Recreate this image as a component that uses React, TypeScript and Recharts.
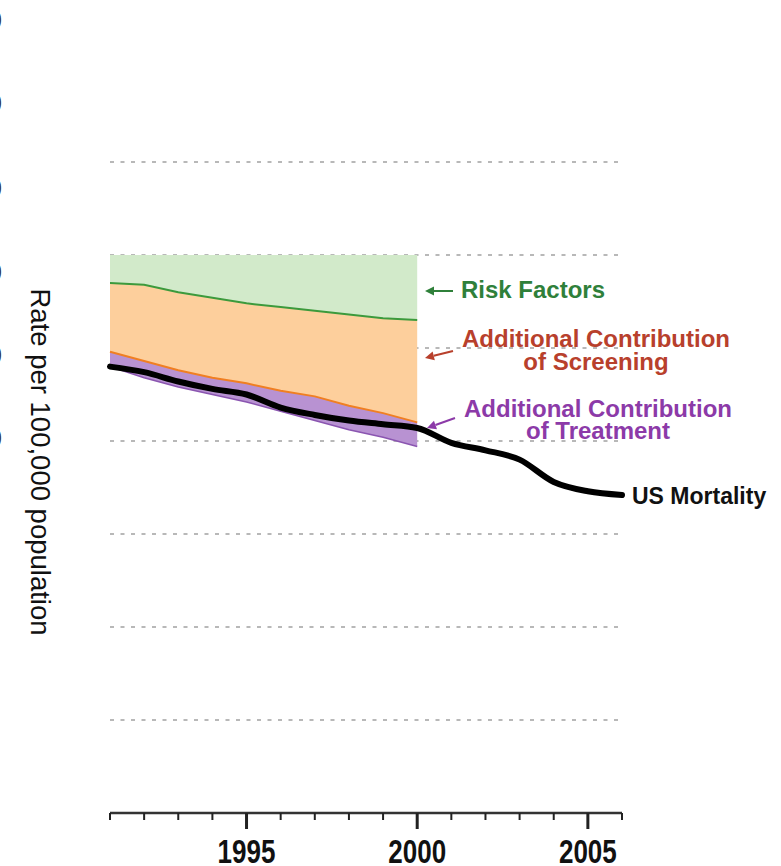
import React from 'react';
import { ComposedChart, Area, Line, XAxis, YAxis, CartesianGrid, Customized } from 'recharts';

// years on the axis, 1991-2006
const years = [1991, 1992, 1993, 1994, 1995, 1996, 1997, 1998, 1999, 2000, 2001, 2002, 2003, 2004, 2005, 2006];
const usMortality = [24.0, 23.7, 23.2, 22.8, 22.5, 21.8, 21.4, 21.1, 20.9, 20.7, 19.9, 19.5, 19.0, 17.8, 17.3, 17.1];

// modelled scenarios only run 1991-2000
const riskFactorsTop = [30, 30, 30, 30, 30, 30, 30, 30, 30, 30];
const riskFactorsBase = [28.5, 28.4, 28.0, 27.7, 27.4, 27.2, 27.0, 26.8, 26.6, 26.5];
const screeningBase = [24.8, 24.3, 23.8, 23.4, 23.1, 22.7, 22.4, 21.9, 21.5, 21.0];
const treatmentBase = [24.0, 23.4, 22.9, 22.5, 22.1, 21.6, 21.1, 20.6, 20.2, 19.7];

const gridValues = [5, 10, 15, 20, 25, 30, 35];
const majorYears = [1995, 2000, 2005];

const data = years.map((year, i) => {
  const inModel = i < riskFactorsTop.length;
  return {
    year,
    mortality: usMortality[i],
    risk: inModel ? [riskFactorsBase[i], riskFactorsTop[i]] : null,
    screening: inModel ? [screeningBase[i], riskFactorsBase[i]] : null,
    treatment: inModel ? [treatmentBase[i], screeningBase[i]] : null,
    riskLine: inModel ? riskFactorsBase[i] : null,
    screeningLine: inModel ? screeningBase[i] : null,
    treatmentLine: inModel ? treatmentBase[i] : null,
  };
});

const FONT = '"Liberation Sans", Arial, sans-serif';
const GREEN_TXT = '#2f803a';
const RED_TXT = '#b8402c';
const PURPLE_TXT = '#8c3aa8';

const YearTick = (props: any) => {
  const { x, y, payload } = props;
  const major = majorYears.includes(payload.value);
  return (
    <g>
      <line x1={x} x2={x} y1={y} y2={y + (major ? 16 : 7)} stroke="#222" strokeWidth={major ? 3 : 2} />
      {major && (
        <text
          transform={`translate(${x},${y + 50}) scale(1,1.3)`}
          textAnchor="middle"
          fontFamily={FONT}
          fontWeight="bold"
          fontSize={26}
          fill="#111"
        >
          {payload.value}
        </text>
      )}
    </g>
  );
};

const Arrow = ({ x1, y1, x2, y2, color }: any) => {
  const a = Math.atan2(y2 - y1, x2 - x1);
  const len = 9;
  const w = 4.5;
  const bx = x2 - len * Math.cos(a);
  const by = y2 - len * Math.sin(a);
  const px = -Math.sin(a) * w;
  const py = Math.cos(a) * w;
  return (
    <g>
      <line x1={x1} y1={y1} x2={bx} y2={by} stroke={color} strokeWidth={2} />
      <polygon points={`${x2},${y2} ${bx + px},${by + py} ${bx - px},${by - py}`} fill={color} />
    </g>
  );
};

const Annotations = () => (
  <g fontFamily={FONT}>
    {[20, 103, 188, 272, 355, 438].map((y) => (
      <text key={y} x={2} y={y + 9} textAnchor="end" fontSize={26} fill="#333">0</text>
    ))}
    <text
      transform="translate(40,462) rotate(90)"
      textAnchor="middle"
      dominantBaseline="central"
      fontSize={27.5}
      fill="#111"
    >
      Rate per 100,000 population
    </text>

    <Arrow x1={453} y1={291} x2={425} y2={291} color={GREEN_TXT} />
    <text x={461} y={298} fontSize={24} fontWeight="bold" fill={GREEN_TXT}>Risk Factors</text>

    <Arrow x1={453} y1={351} x2={425} y2={358} color={RED_TXT} />
    <text x={596} y={347} fontSize={24} fontWeight="bold" fill={RED_TXT} textAnchor="middle">
      Additional Contribution
    </text>
    <text x={596} y={370} fontSize={24} fontWeight="bold" fill={RED_TXT} textAnchor="middle">
      of Screening
    </text>

    <Arrow x1={455} y1={418} x2={427} y2={428} color={PURPLE_TXT} />
    <text x={598} y={417} fontSize={24} fontWeight="bold" fill={PURPLE_TXT} textAnchor="middle">
      Additional Contribution
    </text>
    <text x={598} y={439} fontSize={24} fontWeight="bold" fill={PURPLE_TXT} textAnchor="middle">
      of Treatment
    </text>

    <text x={632} y={504} fontSize={23} fontWeight="bold" fill="#111">US Mortality</text>
  </g>
);

const App: React.FC = () => {
  return (
    <div style={{ position: 'absolute', left: 0, top: 0, width: 781, height: 866, background: '#fff', overflow: 'hidden' }}>
      <ComposedChart width={781} height={866} data={data} margin={{ top: 69, right: 159, left: 110, bottom: 0 }}>
        <CartesianGrid
          vertical={false}
          horizontalValues={gridValues}
          stroke="#b8b8b8"
          strokeWidth={2}
          strokeDasharray="4 6.5"
        />
        <XAxis
          dataKey="year"
          type="number"
          domain={[1991, 2006]}
          ticks={years}
          interval={0}
          height={53}
          tickSize={0}
          tickMargin={0}
          tickLine={false}
          axisLine={{ stroke: '#333', strokeWidth: 2.5 }}
          tick={<YearTick />}
        />
        <YAxis hide domain={[0, 40]} ticks={gridValues} />
        <Area dataKey="risk" type="linear" stroke="none" fill="#d2eaca" fillOpacity={1} isAnimationActive={false} />
        <Area dataKey="screening" type="linear" stroke="none" fill="#fdcf9c" fillOpacity={1} isAnimationActive={false} />
        <Area dataKey="treatment" type="linear" stroke="none" fill="#b892d2" fillOpacity={1} isAnimationActive={false} />
        <Line dataKey="riskLine" type="linear" stroke="#3c9a3c" strokeWidth={2} dot={false} isAnimationActive={false} />
        <Line dataKey="screeningLine" type="linear" stroke="#f07f22" strokeWidth={2} dot={false} isAnimationActive={false} />
        <Line dataKey="treatmentLine" type="linear" stroke="#8a55b0" strokeWidth={1.5} dot={false} isAnimationActive={false} />
        <Line
          dataKey="mortality"
          type="monotone"
          stroke="#000"
          strokeWidth={6}
          strokeLinecap="round"
          dot={false}
          isAnimationActive={false}
        />
        <Customized component={Annotations} />
      </ComposedChart>
    </div>
  );
};

export default App;
